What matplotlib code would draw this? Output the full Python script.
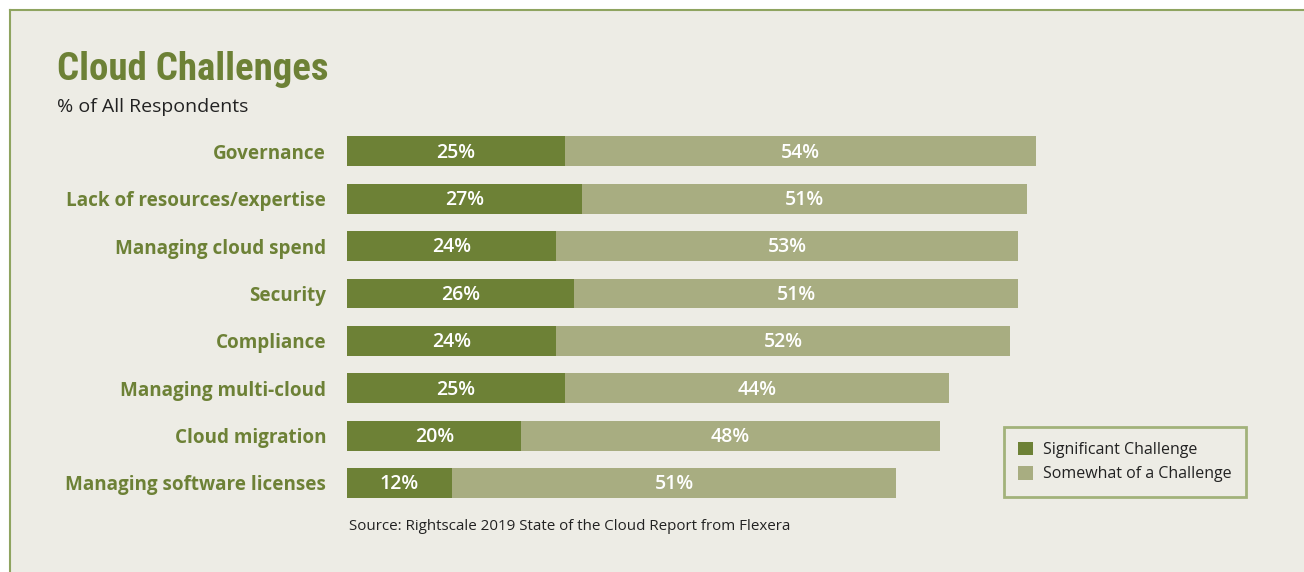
import numpy as np
import matplotlib as mpl
from matplotlib import pyplot as plt
from matplotlib.patches import Rectangle

#data
categories = ["Governance", "Lack of resources/expertise", "Managing cloud spend",
              "Security", "Compliance", "Managing multi-cloud", "Cloud migration",
              "Managing software licenses"]
significant = [25, 27, 24, 26, 24, 25, 20, 12]
somewhat = [54, 51, 53, 51, 52, 44, 48, 51]
series_names = ["Significant Challenge", "Somewhat of a Challenge"]

dark = "#6d8136"
light = "#a8ad81"
bg = "#edece5"
border = "#8fa460"

fig = plt.figure(figsize=(13.04, 5.72), dpi=100)
fig.patch.set_facecolor("white")

#panel background with green border on top/left
panel = Rectangle((10/1304, 0), 1 - 10/1304, 1 - 10/572, transform=fig.transFigure,
                  facecolor=bg, edgecolor="none", zorder=-10)
fig.patches.append(panel)
fig.add_artist(plt.Line2D([10/1304, 10/1304], [0, 1 - 10/572], color=border, lw=1.5,
                          transform=fig.transFigure, zorder=-5))
fig.add_artist(plt.Line2D([10/1304, 1], [1 - 10/572, 1 - 10/572], color=border, lw=1.5,
                          transform=fig.transFigure, zorder=-5))

ax = fig.add_axes([347/1304, 0.1142, 872/1304, 0.6627])
ax.set_facecolor("none")
y = np.arange(len(categories))
b1 = ax.barh(y, significant, height=0.63, color=dark, label=series_names[0])
b2 = ax.barh(y, somewhat, left=significant, height=0.63, color=light, label=series_names[1])
ax.set_xlim(0, 100)
ax.set_ylim(len(categories) - 0.5, -0.5)
for s in ax.spines.values():
    s.set_visible(False)
ax.set_xticks([])
ax.set_yticks(y)
ax.set_yticklabels(categories, fontsize=13.6, fontweight="bold", color=dark, family="Open Sans")
ax.tick_params(axis="y", length=0, pad=15)

#value labels inside each segment
for i in range(len(categories)):
    ax.text(significant[i] / 2, i + 0.03, f"{significant[i]}%", ha="center", va="center",
            color="white", fontsize=14, family="Open Sans", fontweight="semibold")
    ax.text(significant[i] + somewhat[i] / 2, i + 0.03, f"{somewhat[i]}%", ha="center", va="center",
            color="white", fontsize=14, family="Open Sans", fontweight="semibold")

#title, subtitle, source
fig.text(57/1304, 1 - 80/572, "Cloud Challenges", fontsize=28, fontweight="bold",
         color=dark, family=["Roboto Condensed", "Roboto", "DejaVu Sans"])
fig.text(57/1304, 1 - 112/572, "% of All Respondents", fontsize=14, color="#222222",
         family="Open Sans")
fig.text(570/1304, 1 - 527/572, "Source: Rightscale 2019 State of the Cloud Report from Flexera",
         fontsize=10.9, color="#222222", family="Open Sans", ha="center", va="center")

leg = ax.legend(loc="center", bbox_to_anchor=(1125/1304, 1 - 462/572),
                bbox_transform=fig.transFigure, frameon=True, fancybox=False,
                prop={"family": "Open Sans", "size": 11.5},
                handlelength=0.95, handleheight=0.95, borderpad=0.9, labelspacing=0.5,
                handletextpad=0.6)
leg.get_frame().set_edgecolor(border)
leg.get_frame().set_linewidth(2)
leg.get_frame().set_facecolor(bg)
for t in leg.get_texts():
    t.set_color("#222222")

plt.savefig("out.png", dpi=100, facecolor=fig.get_facecolor())
plt.close("all")
